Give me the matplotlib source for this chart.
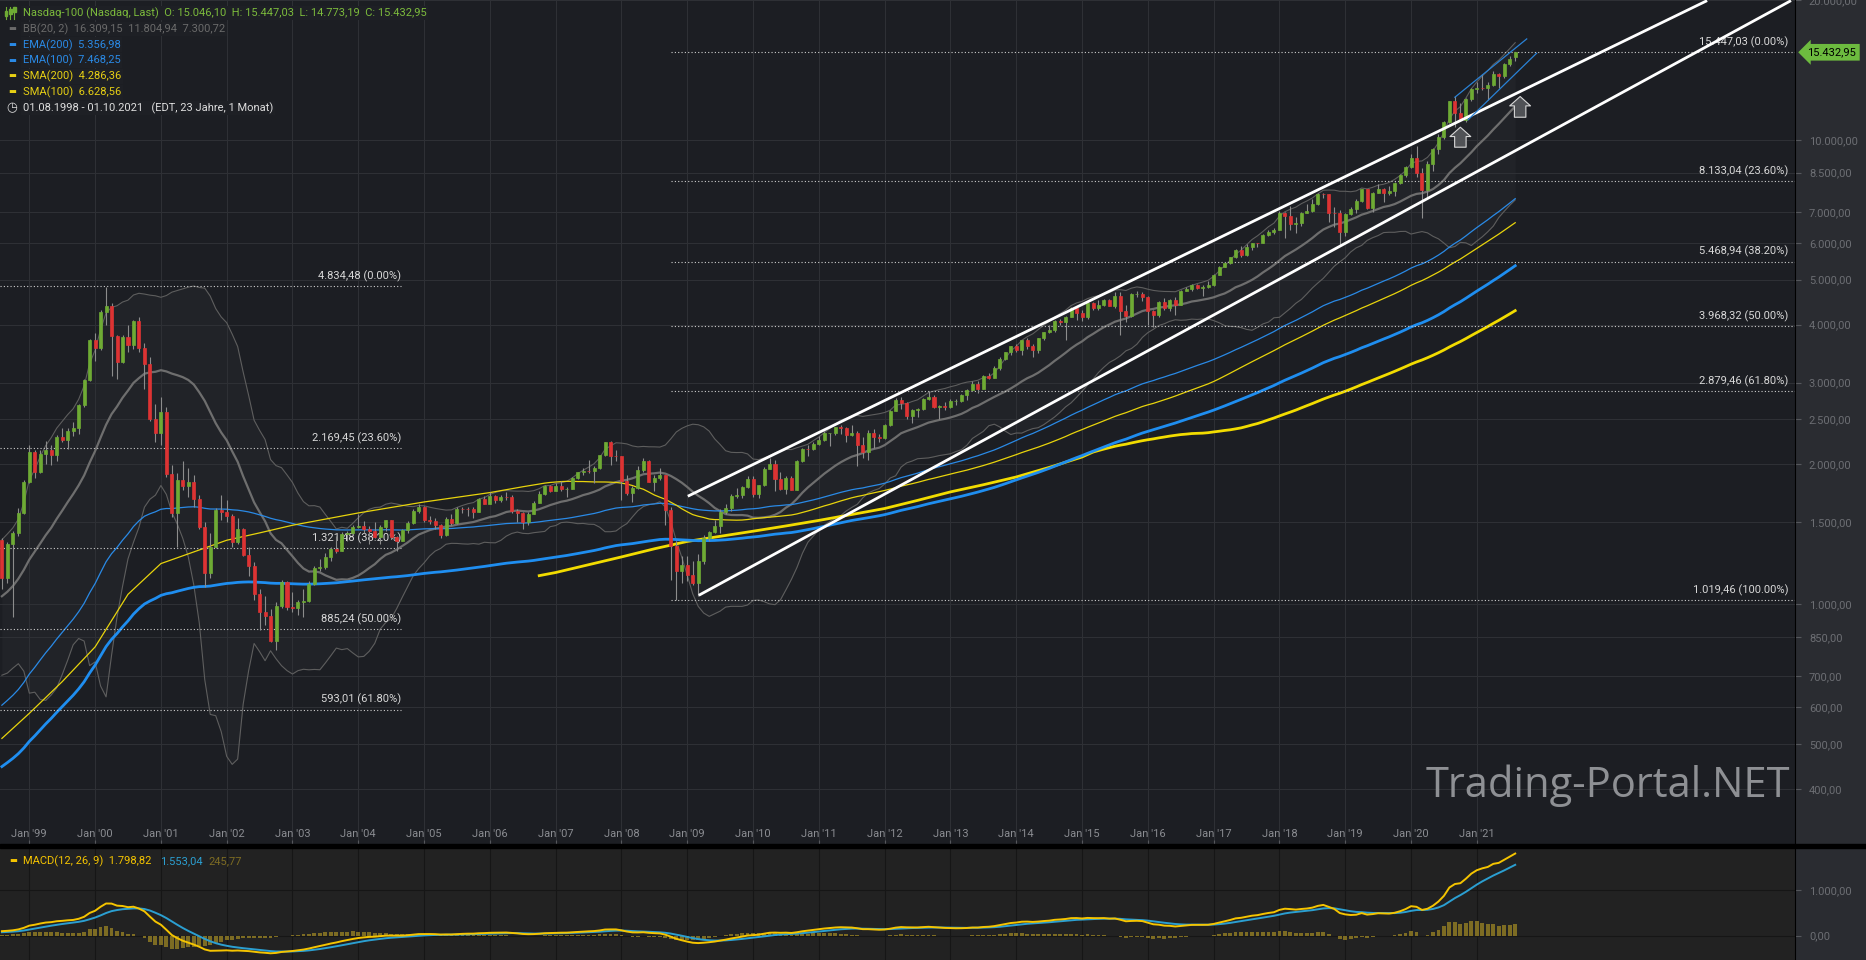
import numpy as np
import pandas as pd
import matplotlib
matplotlib.use('Agg')
import matplotlib.pyplot as plt
from matplotlib.lines import Line2D
from matplotlib.patches import Rectangle

W, H = 1866, 960

# monthly closes Jan 1997 - Jul 1998, only used to warm up BB / MACD
closes_pre = [876, 813, 766, 812, 895, 910, 1038, 1009, 1050, 970, 990, 991,
              1040, 1157, 1220, 1240, 1174, 1337, 1373]

# Nasdaq-100 monthly candles, Aug 1998 - Aug 2021 (month index 0 = Aug 1998)
closes = [1140, 1345, 1420, 1575, 1836,
          2128, 1930, 2106, 2147, 2091, 2296, 2252, 2364, 2395, 2680, 3040, 3708,
          3570, 4266, 4397, 3774, 3325, 3763, 3609, 4078, 3570, 3283, 2507, 2341,
          2593, 1908, 1573, 1855, 1800, 1830, 1683, 1469, 1168, 1329, 1596, 1577,
          1550, 1359, 1452, 1277, 1209, 1051, 963, 942, 832, 990, 1116, 984,
          980, 1009, 1018, 1106, 1197, 1201, 1263, 1314, 1303, 1417, 1421, 1468,
          1477, 1451, 1438, 1396, 1467, 1517, 1398, 1371, 1442, 1493, 1585, 1621,
          1519, 1510, 1483, 1411, 1523, 1493, 1605, 1603, 1601, 1581, 1686, 1645,
          1710, 1675, 1703, 1700, 1586, 1575, 1500, 1566, 1654, 1731, 1800, 1756,
          1793, 1769, 1772, 1869, 1925, 1934, 1932, 1966, 2091, 2239, 2090, 2085,
          1845, 1736, 1781, 1949, 2030, 1837, 1872, 1895, 1595, 1334, 1180, 1212,
          1155, 1109, 1237, 1387, 1432, 1477, 1583, 1614, 1711, 1715, 1791, 1860,
          1725, 1802, 1956, 2005, 1863, 1774, 1874, 1765, 2036, 2160, 2158, 2218,
          2259, 2336, 2338, 2402, 2393, 2311, 2333, 2200, 2125, 2337, 2290, 2278,
          2426, 2611, 2755, 2713, 2546, 2616, 2627, 2772, 2799, 2662, 2677, 2661,
          2732, 2738, 2818, 2887, 2981, 2910, 3096, 3074, 3218, 3378, 3496, 3592,
          3530, 3698, 3596, 3532, 3736, 3850, 3889, 4082, 4050, 4158, 4335, 4236,
          4151, 4454, 4334, 4415, 4509, 4397, 4604, 4276, 4181, 4648, 4665, 4593,
          4279, 4201, 4484, 4341, 4524, 4418, 4731, 4771, 4875, 4801, 4810, 4864,
          5118, 5330, 5436, 5584, 5789, 5647, 5880, 5988, 5981, 6248, 6337, 6397,
          6950, 6855, 6581, 6605, 6967, 7040, 7272, 7657, 7628, 6967, 6949, 6330,
          6907, 7097, 7378, 7826, 7128, 7671, 7848, 7692, 7750, 8084, 8402, 8733,
          9151, 8462, 7813, 8890, 9555, 10157, 10906, 12110, 11418, 11052, 12269, 12888,
          12925, 12909, 13091, 13861, 13687, 14554, 14960, 15432.95]

highs = [1390, 1360, 1440, 1610, 1850,
         2200, 2150, 2150, 2250, 2200, 2310, 2400, 2390, 2470, 2700, 3060, 3720,
         3840, 4290, 4816, 4450, 3800, 3800, 4000, 4100, 4150, 3650, 3400, 2700,
         2800, 2660, 1990, 1920, 2030, 1960, 1900, 1720, 1500, 1420, 1610, 1720,
         1680, 1560, 1530, 1460, 1330, 1230, 1080, 1040, 975, 1010, 1130, 1120,
         1060, 1020, 1080, 1120, 1210, 1250, 1290, 1330, 1400, 1430, 1440, 1480,
         1560, 1510, 1470, 1500, 1480, 1520, 1520, 1400, 1450, 1510, 1600, 1640,
         1630, 1550, 1530, 1490, 1540, 1560, 1620, 1620, 1620, 1620, 1690, 1710,
         1740, 1720, 1720, 1740, 1720, 1600, 1580, 1580, 1670, 1750, 1810, 1810,
         1820, 1840, 1790, 1880, 1930, 1960, 2040, 1980, 2100, 2240, 2250, 2150,
         2090, 1900, 1800, 1980, 2060, 2040, 1900, 1960, 1900, 1620, 1370, 1270,
         1270, 1240, 1280, 1410, 1440, 1520, 1600, 1640, 1730, 1780, 1800, 1890,
         1890, 1810, 1970, 2060, 2040, 1930, 1890, 1890, 2040, 2170, 2200, 2230,
         2300, 2360, 2340, 2410, 2430, 2410, 2430, 2360, 2290, 2370, 2380, 2330,
         2440, 2620, 2780, 2800, 2730, 2630, 2650, 2780, 2880, 2820, 2690, 2720,
         2770, 2770, 2830, 2910, 3020, 3020, 3110, 3140, 3250, 3400, 3500, 3600,
         3640, 3710, 3740, 3630, 3740, 3860, 3990, 4090, 4120, 4170, 4360, 4340,
         4300, 4460, 4480, 4520, 4540, 4550, 4690, 4700, 4400, 4670, 4720, 4700,
         4620, 4300, 4500, 4570, 4540, 4580, 4750, 4810, 4900, 4900, 4870, 4960,
         5130, 5340, 5450, 5600, 5830, 5900, 5960, 6000, 6000, 6260, 6400, 6450,
         7030, 7000, 7200, 6820, 6990, 7280, 7440, 7690, 7700, 7660, 7150, 7060,
         6960, 7150, 7470, 7850, 7850, 7730, 8030, 7880, 7940, 8100, 8430, 8770,
         9300, 9720, 8700, 9000, 9600, 10300, 10950, 12150, 12440, 12000, 12300, 12930,
         13300, 13880, 13300, 14060, 13900, 14600, 15130, 15447.03]

lows = [1080, 1110, 940, 1400, 1560,
        1820, 1870, 1920, 2000, 1990, 2030, 2240, 2160, 2300, 2330, 2660, 3020,
        3340, 3520, 4000, 3100, 3050, 3300, 3500, 3550, 3500, 2900, 2480, 2240,
        2200, 1880, 1540, 1330, 1760, 1700, 1620, 1450, 1090, 1140, 1320, 1520,
        1500, 1330, 1350, 1270, 1150, 1020, 880, 900, 830, 795, 980, 970,
        960, 950, 940, 1010, 1100, 1180, 1190, 1240, 1290, 1300, 1370, 1410,
        1460, 1420, 1350, 1390, 1350, 1440, 1380, 1300, 1370, 1420, 1490, 1570,
        1500, 1490, 1450, 1390, 1400, 1480, 1490, 1570, 1550, 1530, 1580, 1640,
        1640, 1650, 1660, 1680, 1570, 1500, 1450, 1480, 1560, 1650, 1720, 1740,
        1750, 1750, 1700, 1770, 1860, 1900, 1920, 1820, 1950, 2080, 1990, 2030,
        1680, 1720, 1660, 1770, 1930, 1830, 1750, 1850, 1480, 1130, 1019.46, 1110,
        1120, 1100, 1043, 1220, 1370, 1420, 1420, 1560, 1590, 1690, 1690, 1780,
        1700, 1690, 1800, 1950, 1750, 1760, 1730, 1760, 1760, 2020, 2090, 2150,
        2200, 2250, 2190, 2310, 2330, 2240, 2300, 1980, 2060, 2040, 2170, 2230,
        2270, 2420, 2600, 2630, 2500, 2450, 2530, 2620, 2750, 2650, 2500, 2620,
        2650, 2690, 2730, 2750, 2880, 2850, 2900, 3050, 3070, 3190, 3360, 3440,
        3490, 3440, 3540, 3400, 3480, 3700, 3830, 3850, 3990, 3700, 4150, 4090,
        4080, 4110, 4290, 4290, 4380, 4390, 4350, 3790, 4060, 4150, 4580, 4490,
        4000, 3950, 4150, 4300, 4280, 4200, 4400, 4720, 4720, 4780, 4620, 4800,
        4850, 5110, 5310, 5390, 5570, 5580, 5630, 5800, 5880, 5980, 6200, 6280,
        6380, 6160, 6400, 6310, 6530, 6950, 7000, 7240, 7480, 6660, 6500, 5900,
        6200, 6880, 6970, 7350, 7100, 7000, 7670, 7330, 7600, 7560, 8050, 8300,
        8700, 8320, 6771, 7500, 8560, 9300, 10030, 10850, 10680, 10950, 10900, 12150,
        12600, 12780, 12200, 13030, 12940, 13600, 14430, 14773.19]

last_open = 15046.10

# moving averages at the left edge of the chart;
# EMAs continue from these, SMAs are read until enough candles exist
ema200_start = 447
ema100_start = 606
sma100_m = [0, 5, 11, 17, 23, 29, 35, 41, 47, 53, 65, 77, 89, 95]
sma100_v = [514, 582, 681, 809, 1050, 1223, 1296, 1373, 1424, 1479, 1572, 1660, 1739, 1790]
sma200_m = [98, 101, 113, 119, 125, 131, 137, 143, 149, 155, 161, 167, 173, 179, 185, 191, 197]
sma200_v = [1152, 1170, 1264, 1316, 1365, 1400, 1436, 1474, 1515, 1560, 1607, 1673, 1745,
            1808, 1879, 1970, 2075]

# fibonacci retracements
fib_left = [4834.48, 2169.45, 1321.48, 885.24, 593.01]
fib_left_pct = ['0.00%', '23.60%', '38.20%', '50.00%', '61.80%']
fib_right = [15447.03, 8133.04, 5468.94, 3968.32, 2879.46, 1019.46]
fib_right_pct = ['0.00%', '23.60%', '38.20%', '50.00%', '61.80%', '100.00%']

# drawn trend lines (month index, price)
trend_white = [([125.1, 311.0], [1708, 19939]), ([127.1, 326.3], [1045, 19939])]
trend_blue = [([265.0, 278.1], [12350, 16490]), ([267.4, 279.9], [11040, 15360])]
arrows_up = [(266.0, 9640, 10645), (276.9, 11184, 12395)]

years = list(range(1999, 2022))
y_ticks = [400, 500, 600, 700, 850, 1000, 1500, 2000, 2500, 3000, 4000, 5000, 6000,
           7000, 8500, 10000, 20000]


def de(v):
    return f"{v:,.2f}".replace(",", "_").replace(".", ",").replace("_", ".")


plt.rcParams['font.family'] = ['Roboto', 'DejaVu Sans']

BG = '#1c1e23'
GRID = '#2e3035'
GREEN = '#6eab34'
RED = '#dd3333'

n = len(closes)
m = np.arange(n)
s = pd.Series(closes_pre + closes, index=np.arange(-len(closes_pre), n), dtype=float)
cs = pd.Series(closes, dtype=float)
opens = s.shift(1).loc[0:].values.copy()
opens[-1] = last_open
c = cs.values

# indicators
mid = s.rolling(20).mean().loc[0:].values
sd = s.rolling(20).std(ddof=0).loc[0:].values
bb_up = mid + 2 * sd
bb_lo = mid - 2 * sd

ema200 = pd.Series([ema200_start] + closes[1:], dtype=float).ewm(span=200, adjust=False).mean()
ema100 = pd.Series([ema100_start] + closes[1:], dtype=float).ewm(span=100, adjust=False).mean()
sma100 = cs.rolling(100).mean()
sma200 = cs.rolling(200).mean()
sma100_x = sma100_m + list(m[99:])
sma100_y = sma100_v + list(sma100.values[99:])
sma200_x = sma200_m + list(m[199:])
sma200_y = sma200_v + list(sma200.values[199:])

ema12 = s.ewm(span=12, adjust=False).mean()
ema26 = s.ewm(span=26, adjust=False).mean()
macd = ema12 - ema26
signal = macd.ewm(span=9, adjust=False).mean()
hist = (macd - signal).loc[0:].values
macd = macd.loc[0:].values
signal = signal.loc[0:].values

fig = plt.figure(figsize=(W / 100, H / 100), dpi=100, facecolor='#2a2c31')
ax = fig.add_axes([0, 116 / H, 1795 / W, 844 / H], facecolor=BG)
axm = fig.add_axes([0, 0, 1795 / W, 112 / H], facecolor='#222222')
fig.add_artist(Rectangle((0, 112 / H), 1, 4 / H, transform=fig.transFigure,
                         color='black', zorder=10))

xl = (-0.344, 327.03)
ticks_x = [5 + 12 * i for i in range(len(years))]

# ---- price panel
ax.set_yscale('log')
ax.set_xlim(*xl)
ax.set_ylim(304.5, 19939)
ax.set_yticks(y_ticks)
ax.set_yticklabels([de(v) for v in y_ticks])
ax.yaxis.set_minor_locator(matplotlib.ticker.NullLocator())
ax.yaxis.tick_right()
ax.set_xticks(ticks_x)
ax.set_xticklabels([f"Jan '{y % 100:02d}" for y in years])
ax.tick_params(axis='y', direction='out', length=4, color='#55575c', labelcolor='#6c6e73',
               labelsize=8, pad=6)
ax.tick_params(axis='x', direction='in', length=3, color='#55575c', labelcolor='#8a8c91',
               labelsize=8, pad=-11)
ax.grid(color=GRID, lw=0.8)
for sp in ['top', 'left', 'bottom']:
    ax.spines[sp].set_visible(False)
ax.spines['right'].set_color('black')

# bollinger bands
ax.fill_between(m, bb_lo, bb_up, color='white', alpha=0.025, lw=0, zorder=1)
ax.plot(m, bb_up, color='#5e5e5e', lw=0.8, zorder=2)
ax.plot(m, bb_lo, color='#5e5e5e', lw=0.8, zorder=2)
ax.plot(m, mid, color='#6e6e6e', lw=1.6, zorder=2)

# moving averages
ax.plot(m, ema100, color='#2a8ae6', lw=0.9, zorder=3)
ax.plot(sma100_x, sma100_y, color='#e8d40c', lw=0.9, zorder=3)
ax.plot(sma200_x, sma200_y, color='#f2dc00', lw=2.0, zorder=3)
ax.plot(m, ema200, color='#1f8ef0', lw=2.0, zorder=3)

# fibonacci
ax.hlines(fib_left, xl[0], 72.8, colors='#cfcfcf', linestyles=(0, (1, 2)), lw=0.8, zorder=4)
for v, p in zip(fib_left, fib_left_pct):
    ax.annotate(f"{de(v)} ({p})", xy=(72.8, v), xytext=(0, 3), textcoords='offset points',
                ha='right', va='bottom', fontsize=8, color='#d8d8d8', zorder=4)
ax.hlines(fib_right, 122.0, xl[1], colors='#cfcfcf', linestyles=(0, (1, 2)), lw=0.8, zorder=4)
for v, p in zip(fib_right, fib_right_pct):
    ax.annotate(f"{de(v)} ({p})", xy=(325.8, v), xytext=(0, 3), textcoords='offset points',
                ha='right', va='bottom', fontsize=8, color='#d8d8d8', zorder=4)

# candles
cols = np.where(c >= opens, GREEN, RED)
ax.vlines(m, lows, highs, color='#8c8c8c', lw=0.8, zorder=5)
ax.bar(m, np.abs(c - opens), bottom=np.minimum(c, opens), width=0.55, color=cols,
       edgecolor=cols, lw=0.5, zorder=6)

# trend lines
for xs, ys in trend_white:
    ax.plot(xs, ys, color='white', lw=2.0, zorder=7, solid_capstyle='butt')
for xs, ys in trend_blue:
    ax.plot(xs, ys, color='#2a82d6', lw=0.9, zorder=7)
for xm, y0, y1 in arrows_up:
    ax.annotate('', xy=(xm, y1), xytext=(xm, y0), zorder=8,
                arrowprops=dict(arrowstyle='simple,head_length=0.45,head_width=1.0,tail_width=0.55',
                                mutation_scale=15, fc='#505256', ec='#d8d8d8', lw=0.8,
                                shrinkA=0, shrinkB=0))

# last price tag
ax.annotate(de(closes[-1]), xy=(1, closes[-1]), xycoords=('axes fraction', 'data'),
            xytext=(9, 0), textcoords='offset points', ha='left', va='center', fontsize=8,
            color='black', annotation_clip=False, zorder=10,
            bbox=dict(boxstyle='larrow,pad=0.3', fc='#6dbb3f', ec='none'))

# watermark
fig.text(1790 / W, 1 - 797 / H, 'Trading-Portal.NET', ha='right', va='baseline',
         fontsize=30, family='Open Sans', color='#8e9094')

# ---- MACD panel
axm.set_xlim(*xl)
axm.set_ylim(-532, 1919)
axm.set_xticks(ticks_x)
axm.set_yticks([0, 1000])
axm.set_yticklabels(['0,00', '1.000,00'])
axm.yaxis.tick_right()
axm.tick_params(axis='y', direction='out', length=4, color='#55575c', labelcolor='#6c6e73',
                labelsize=8, pad=6)
axm.tick_params(axis='x', length=0, labelbottom=False)
axm.grid(color='#161616', lw=0.8)
for sp in ['top', 'left', 'bottom']:
    axm.spines[sp].set_visible(False)
axm.spines['right'].set_color('black')
axm.bar(m, hist, width=0.7, color='#7d6c23', zorder=2)
axm.plot(m, signal, color='#2b9fd1', lw=1.4, zorder=3)
axm.plot(m, macd, color='#f5c400', lw=1.4, zorder=4)


# ---- legends
def ftext(x, y, s, **kw):
    kw.setdefault('fontsize', 8)
    return fig.text(x / W, 1 - y / H, s, va='center', **kw)


box = dict(boxstyle='square,pad=0.15', fc='#1e2025', ec='none')
# small candlestick icon
for k, xx in enumerate([6, 10, 14]):
    fig.add_artist(Line2D([xx / W, xx / W], [1 - 7 / H, 1 - 19 / H], color=GREEN, lw=0.8))
    fig.add_artist(Rectangle(((xx - 1.5) / W, 1 - (16 - k * 2) / H), 3 / W, 5 / H,
                             transform=fig.transFigure, color=GREEN))
ftext(23, 13, 'Nasdaq-100 (Nasdaq, Last)  O: 15.046,10  H: 15.447,03  L: 14.773,19  C: 15.432,95',
      color='#7cbb3c', bbox=box)
rows = [('BB(20, 2)  16.309,15  11.804,94  7.300,72', '#6a6a6a'),
        ('EMA(200)  5.356,98', '#2a8ae6'),
        ('EMA(100)  7.468,25', '#2a8ae6'),
        ('SMA(200)  4.286,36', '#e6cf14'),
        ('SMA(100)  6.628,56', '#e6cf14')]
for i, (txt, col) in enumerate(rows):
    y = 29 + i * 15.8
    ftext(8, y, '▬', color=col, fontsize=6)
    ftext(23, y, txt, color=col, bbox=box)
ftext(6, 108, '◷', color='#dddddd', fontsize=9)
ftext(23, 108, '01.08.1998 - 01.10.2021   (EDT, 23 Jahre, 1 Monat)', color='#dddddd', bbox=box)

ftext(9, 861, '▬', color='#f5c400', fontsize=6)
ftext(23, 861, 'MACD(12, 26, 9)  1.798,82', color='#f5c400')
ftext(160, 861, '1.553,04', color='#2b9fd1')
ftext(208, 861, '245,77', color='#7d6c23')

fig.savefig('out.png', dpi=100, facecolor=fig.get_facecolor())
